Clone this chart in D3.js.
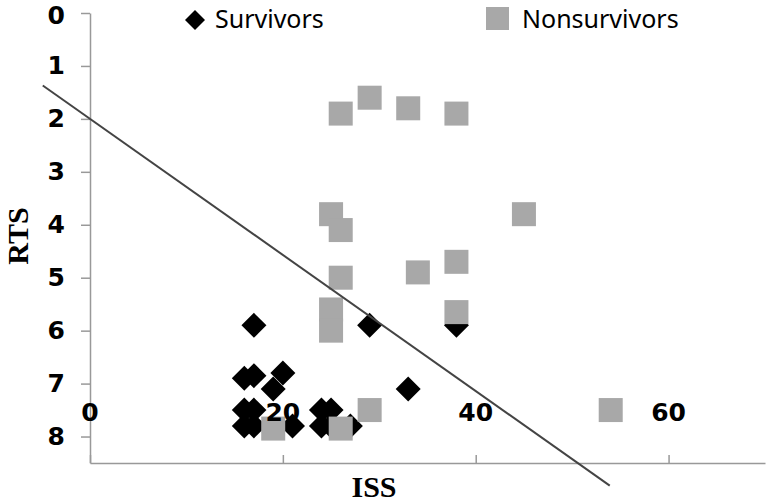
<!DOCTYPE html>
<html lang="en">
<head>
<meta charset="utf-8">
<title>RTS vs ISS</title>
<script src="https://d3js.org/d3.v7.min.js"></script>
<style>
  body { margin: 0; background: #fff; }
  .tickLabel { font-family: "DejaVu Sans", sans-serif; font-weight: bold; font-size: 25px; fill: #000; }
  .axisTitle { font-family: "Liberation Serif", serif; font-weight: bold; font-size: 30px; fill: #000; }
  .legendText { font-family: "Noto Sans", sans-serif; font-size: 25px; fill: #000; }
</style>
</head>
<body>
<div id="chart"></div>
<script>
  // survivors (black diamonds): [ISS, RTS]
  var survivors = [
    [17, 5.9], [29, 5.9], [38, 5.9],
    [16, 6.9], [17, 6.85], [20, 6.8], [19, 7.1], [33, 7.1],
    [16, 7.5], [17, 7.5], [16, 7.8], [17, 7.8], [21, 7.8],
    [24, 7.5], [25, 7.5], [24, 7.8], [25, 7.8], [27, 7.8]
  ];
  // nonsurvivors (grey squares): [ISS, RTS]
  var nonsurvivors = [
    [26, 1.9], [29, 1.6], [33, 1.8], [38, 1.9],
    [25, 3.8], [26, 4.1], [45, 3.8],
    [26, 5.0], [34, 4.9], [38, 4.7],
    [25, 5.6], [25, 6.0], [38, 5.65],
    [29, 7.5], [54, 7.5], [26, 7.85], [19, 7.85]
  ];
  // cut-off line: RTS = a + b * ISS
  var lineA = 2.0, lineB = 0.1285;
  var lineX = [-4.9, 53.9];

  var yTicks = [0, 1, 2, 3, 4, 5, 6, 7, 8];
  var xTicks = [0, 20, 40, 60];

  var width = 767, height = 504;

  var svg = d3.select("#chart")
    .append("svg")
      .attr("width", width)
      .attr("height", height)

  var x = d3.scaleLinear().domain([0, 70]).range([90, 765]);
  var y = d3.scaleLinear().domain([0, 8.5]).range([13, 463]);

  // y axis (reversed, 0 at top)
  var yAxis = svg.append("g")
    .attr("transform", "translate(" + x(0) + ",0)")
    .call(d3.axisLeft(y).tickValues(yTicks).tickSize(9).tickSizeOuter(0).tickPadding(16));
  yAxis.select(".domain").attr("stroke", "#999").attr("stroke-width", 1.5);
  yAxis.selectAll(".tick line").attr("stroke", "#999").attr("stroke-width", 1.5);
  yAxis.selectAll(".tick text")
    .attr("class", "tickLabel")
    .attr("y", function(d) { return d === 0 ? 2 : 0; });  // keep the top "0" inside the page

  // x axis with ticks pointing up
  var xAxis = svg.append("g")
    .attr("transform", "translate(0," + y(8.5) + ")")
    .call(d3.axisTop(x).tickValues(xTicks).tickSize(8).tickSizeOuter(0).tickFormat(""));
  xAxis.select(".domain").attr("stroke", "#999").attr("stroke-width", 1.5);
  xAxis.selectAll(".tick line").attr("stroke", "#999").attr("stroke-width", 1.5);

  // markers
  var dHalf = 12.5;
  svg.append("g").selectAll("path")
    .data(survivors)
    .enter().append("path")
      .attr("d", function(d) {
        var cx = x(d[0]), cy = y(d[1]);
        return "M" + cx + "," + (cy - dHalf) + "L" + (cx + dHalf) + "," + cy +
               "L" + cx + "," + (cy + dHalf) + "L" + (cx - dHalf) + "," + cy + "Z";
      })
      .attr("fill", "#000");

  var sq = 24;
  svg.append("g").selectAll("rect")
    .data(nonsurvivors)
    .enter().append("rect")
      .attr("x", function(d) { return x(d[0]) - sq / 2; })
      .attr("y", function(d) { return y(d[1]) - sq / 2; })
      .attr("width", sq)
      .attr("height", sq)
      .attr("fill", "#a8a8a8");

  // x tick labels sit up inside the plot, like the original
  svg.append("g").selectAll("text")
    .data(xTicks)
    .enter().append("text")
      .attr("class", "tickLabel")
      .attr("x", function(d) { return x(d); })
      .attr("y", y(8.5) - 42)
      .attr("text-anchor", "middle")
      .text(function(d) { return d; });

  // cut-off line
  svg.append("line")
    .attr("x1", x(lineX[0]))
    .attr("y1", y(lineA + lineB * lineX[0]))
    .attr("x2", x(lineX[1]))
    .attr("y2", y(lineA + lineB * lineX[1]))
    .attr("stroke", "#444")
    .attr("stroke-width", 2);

  // axis titles
  svg.append("text")
    .attr("class", "axisTitle")
    .attr("transform", "translate(28,236) rotate(-90)")
    .attr("text-anchor", "middle")
    .text("RTS");

  svg.append("text")
    .attr("class", "axisTitle")
    .attr("x", 374)
    .attr("y", 497)
    .attr("text-anchor", "middle")
    .text("ISS");

  // legend
  var legend = svg.append("g");
  legend.append("path")
    .attr("d", "M195,10L205,20L195,30L185,20Z")
    .attr("fill", "#000");
  legend.append("text")
    .attr("class", "legendText")
    .attr("x", 215)
    .attr("y", 28)
    .text("Survivors");
  legend.append("rect")
    .attr("x", 486)
    .attr("y", 7)
    .attr("width", 23)
    .attr("height", 23)
    .attr("fill", "#a8a8a8");
  legend.append("text")
    .attr("class", "legendText")
    .attr("x", 522)
    .attr("y", 28)
    .text("Nonsurvivors");
</script>
</body>
</html>
